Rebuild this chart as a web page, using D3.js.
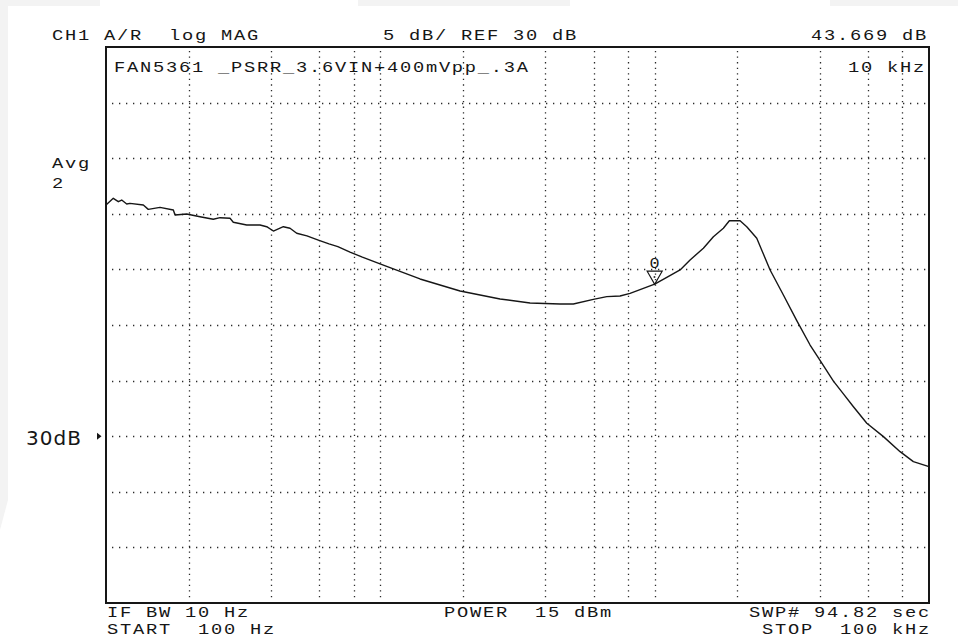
<!DOCTYPE html>
<html>
<head>
<meta charset="utf-8">
<script src="https://cdn.jsdelivr.net/npm/d3@7"></script>
<style>
  html, body { margin: 0; padding: 0; background: #ffffff; }
  svg { display: block; }
</style>
</head>
<body>
<script>
// PSRR sweep, 100 Hz .. 100 kHz, log MAG in dB
const freqHz = [
  100, 106.3, 110.9, 114.1, 119.0, 122.3, 136.8, 142.6, 157.3, 176.0,
  178.5, 196.9, 220.1, 246.1, 260.4, 283.2, 291.1, 325.8, 364.3, 385.3,
  407.4, 443.1, 468.6, 495.7, 540, 594.3, 650, 700, 775.4, 860, 997.5,
  1395, 1953, 2732, 3513, 4520, 5054, 5977, 6690, 7478, 8135, 9095,
  10000, 11070, 12380, 13460, 15050, 16370, 17800, 18720, 20480, 21660,
  23560, 26350, 29460, 32960, 36860, 39530, 44830, 48750, 53030, 59330,
  68220, 78460, 87700, 100000
];
const psrrDb = [
  50.79, 51.39, 51.09, 51.24, 50.88, 50.94, 50.79, 50.40, 50.58, 50.34,
  49.89, 49.98, 49.74, 49.51, 49.65, 49.60, 49.24, 48.99, 48.99, 48.84,
  48.45, 48.84, 48.70, 48.25, 48.02, 47.64, 47.30, 47.05, 46.56, 46.10, 45.49,
  44.14, 43.06, 42.34, 41.98, 41.89, 41.89, 42.31, 42.55, 42.61, 42.85, 43.30,
  43.669, 44.29, 44.95, 45.85, 46.90, 47.94, 48.70, 49.38, 49.38, 48.84,
  47.80, 44.95, 42.70, 40.40, 38.20, 37.05, 34.95, 33.80, 32.65, 31.16,
  29.96, 28.61, 27.71, 27.26
];

// graticule: log frequency lines and 5 dB/div lines
const freqGrid = [200, 400, 600, 800, 1000, 2000, 4000, 6000, 8000, 10000, 20000, 40000, 60000, 80000];
const dbGrid = [20, 25, 30, 35, 40, 45, 50, 55, 60];
const dbRange = [15, 65];
const freqRange = [100, 100000];

// marker
const markerFreq = 10000;
const markerDb = 43.669;
const markerId = "0";

// annotation strings
const headerLeft = "CH1 A/R  log MAG";
const headerMid = "5 dB/ REF 30 dB";
const headerRight = "43.669 dB";
const titleText = "FAN5361 _PSRR_3.6VIN+400mVpp_.3A";
const markerReadout = "10 kHz";
const avgLines = ["Avg", "2"];
const refLabel = "30dB";
const refDb = 30;
const footer = {
  ifbw: "IF BW 10 Hz",
  start: "START  100 Hz",
  power: "POWER  15 dBm",
  swp: "SWP# 94.82 sec",
  stop: "STOP  100 kHz"
};

const W = 958, H = 639;
const plotL = 106, plotR = 929, plotT = 47, plotB = 603;

const svg = d3.select("body").append("svg")
  .attr("width", W).attr("height", H)
  .attr("viewBox", `0 0 ${W} ${H}`);

svg.append("rect").attr("width", W).attr("height", H).attr("fill", "#ffffff");

// faint paper tint around the edges
const tint = svg.append("g").attr("fill", "#f3f3f3");
tint.append("rect").attr("x", 0).attr("y", 0).attr("width", 100).attr("height", 6);
tint.append("rect").attr("x", 358).attr("y", 0).attr("width", 212).attr("height", 6);
tint.append("rect").attr("x", 830).attr("y", 0).attr("width", 128).attr("height", 6);
tint.append("path").attr("d", "M0,6 L8,6 L8,500 L0,530 Z");

const x = d3.scaleLog().domain(freqRange).range([plotL, plotR]);
const y = d3.scaleLinear().domain(dbRange).range([plotB, plotT]);

const ink = "#161616";

// dotted graticule
const grid = svg.append("g").attr("stroke", "#2a2a2a").attr("stroke-width", 1.3).attr("fill", "none");
grid.selectAll("line.h").data(dbGrid).join("line")
  .attr("class", "h")
  .attr("x1", plotL + 6).attr("x2", plotR - 2)
  .attr("y1", d => Math.round(y(d)) + 0.5).attr("y2", d => Math.round(y(d)) + 0.5)
  .attr("stroke-dasharray", "1.3,5.7");
grid.selectAll("line.v").data(freqGrid).join("line")
  .attr("class", "v")
  .attr("x1", d => Math.round(x(d)) + 0.5).attr("x2", d => Math.round(x(d)) + 0.5)
  .attr("y1", plotT + 4).attr("y2", plotB - 2)
  .attr("stroke-dasharray", "1.3,4.26");

// frame
svg.append("rect")
  .attr("x", plotL).attr("y", plotT)
  .attr("width", plotR - plotL).attr("height", plotB - plotT)
  .attr("fill", "none").attr("stroke", ink).attr("stroke-width", 2);

// trace
const pts = freqHz.map((f, i) => [f, psrrDb[i]]);
svg.append("path")
  .datum(pts)
  .attr("fill", "none")
  .attr("stroke", ink)
  .attr("stroke-width", 1.4)
  .attr("stroke-linejoin", "round")
  .attr("d", d3.line().x(d => x(d[0])).y(d => y(d[1])));

// terminal-style text: monospace stretched onto a 13 px character pitch
function term(str, px, py) {
  svg.append("text")
    .attr("transform", `translate(${px},${py}) scale(1.25,1)`)
    .attr("font-family", "'Liberation Mono', 'DejaVu Sans Mono', monospace")
    .attr("font-size", 15)
    .attr("letter-spacing", 1.4)
    .attr("fill", ink)
    .style("white-space", "pre")
    .text(str);
}

term(headerLeft, 52, 40);
term(headerMid, 383, 40);
term(headerRight, 811, 40);
term(titleText, 114, 72);
term(markerReadout, 848, 72);
term(avgLines[0], 52, 168);
term(avgLines[1], 52, 188);
term(footer.ifbw, 107, 617);
term(footer.start, 107, 634);
term(footer.power, 444, 617);
term(footer.swp, 749, 617);
term(footer.stop, 762, 634);

// reference level label and pointer
svg.append("text")
  .attr("x", 26).attr("y", y(refDb) + 9)
  .attr("font-family", "'DejaVu Sans', sans-serif")
  .attr("font-size", 20)
  .attr("letter-spacing", 1)
  .attr("fill", ink)
  .text(refLabel);
const ry = y(refDb);
svg.append("path")
  .attr("d", `M97,${ry - 3.5} L101.5,${ry} L97,${ry + 3.5} Z`)
  .attr("fill", ink);

// marker triangle and number
const mx = x(markerFreq), my = y(markerDb);
svg.append("path")
  .attr("d", `M${mx - 7.5},${my - 13} L${mx + 7.5},${my - 13} L${mx},${my} Z`)
  .attr("fill", "none").attr("stroke", ink).attr("stroke-width", 1.2);
svg.append("rect")
  .attr("x", mx - 1).attr("y", my - 8).attr("width", 1.6).attr("height", 1.6)
  .attr("fill", ink);
svg.append("text")
  .attr("transform", `translate(${mx},${my - 16}) scale(1.2,1)`)
  .attr("text-anchor", "middle")
  .attr("font-family", "'Liberation Mono', monospace")
  .attr("font-size", 14)
  .attr("fill", ink)
  .text(markerId);
</script>
</body>
</html>
